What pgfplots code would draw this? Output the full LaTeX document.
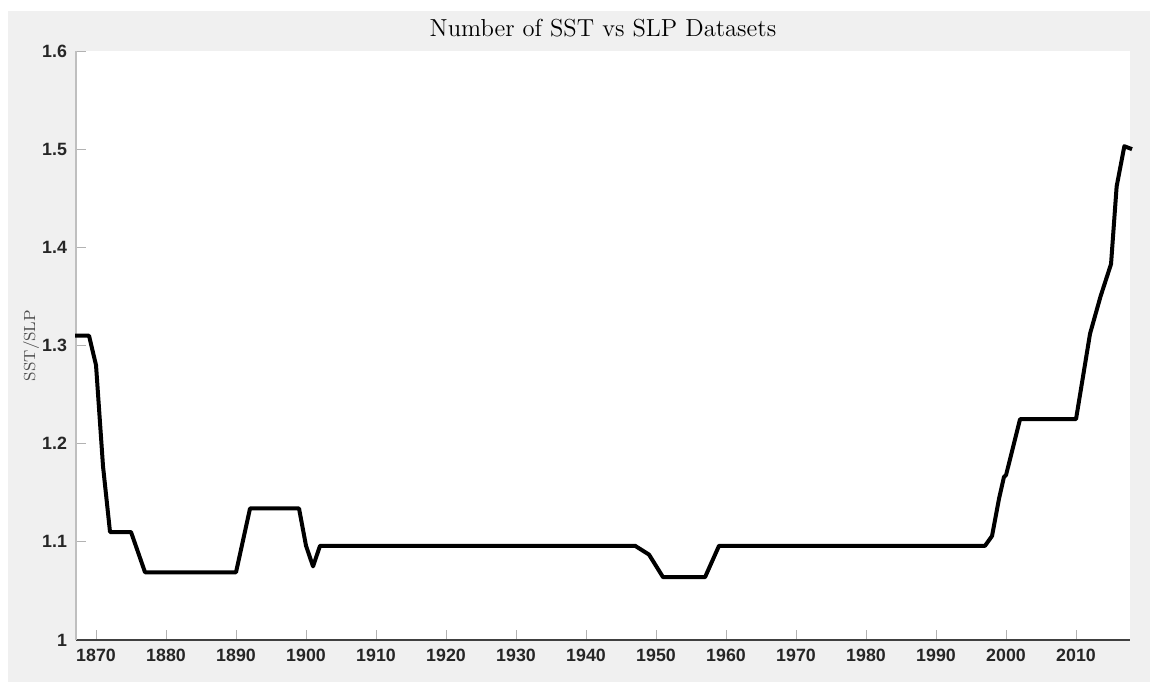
\documentclass[border=0pt]{standalone}
\usepackage{fontspec}
\usepackage{pgfplots}
\pgfplotsset{compat=1.18}
\newfontfamily\helv{Liberation Sans}
\definecolor{figgray}{HTML}{F0F0F0}
\definecolor{axdark}{HTML}{404040}
\definecolor{ticklab}{HTML}{262626}
\begin{document}
\begin{tikzpicture}
\fill[white] (0pt,0pt) rectangle (575pt,341pt);
\fill[figgray] (4pt,0pt) rectangle (575pt,335.5pt);
\begin{axis}[
  at={(38pt,21pt)}, anchor=south west,
  scale only axis,
  width=527pt, height=294.5pt,
  xmin=1867.14, xmax=2017.71,
  ymin=1, ymax=1.6,
  axis background/.style={fill=white},
  axis x line*=bottom, axis y line*=left,
  x axis line style={-, color=axdark, line width=0.6pt},
  y axis line style={-, color=black!25, line width=0.6pt},
  xtick={1870,1880,...,2010},
  ytick={1,1.1,...,1.6},
  tick align=inside,
  major tick length=5pt,
  tick style={color=black!30, line width=0.5pt},
  xticklabel style={/pgf/number format/set thousands separator={}},
  /pgf/number format/assume math mode=true,
  ticklabel style={font=\helv\bfseries\fontsize{8.9}{10}\selectfont, text=ticklab},
  xticklabel style={yshift=-1pt},
  yticklabel style={xshift=-1pt},
  title={Number of SST vs SLP Datasets},
  title style={font=\fontsize{12.3}{14}\selectfont, at={(axis description cs:0.5,1)}, anchor=base, yshift=1.5pt},
  ylabel={SST/SLP},
  ylabel style={font=\fontsize{8}{10}\selectfont, text=black!70, at={(axis description cs:-0.0427,0.5)}, anchor=center},
  clip=false,
]
\addplot[black, line width=2pt, line join=round, no markers] coordinates {
(1867,1.310) (1869,1.310) (1870,1.280) (1871,1.177) (1872,1.110)
(1875,1.110) (1877,1.069) (1890,1.069) (1892,1.134) (1899,1.134)
(1900,1.096) (1901,1.075) (1902,1.096) (1947,1.096) (1949,1.087)
(1951,1.064) (1957,1.064) (1959,1.096) (1997,1.096) (1998,1.106)
(1999,1.144) (1999.7,1.166) (2000,1.168) (2002,1.225) (2010,1.225)
(2012,1.312) (2013.5,1.350) (2015,1.383) (2015.8,1.462) (2016.9,1.503)
(2018,1.500)
};
\end{axis}
\end{tikzpicture}
\end{document}
